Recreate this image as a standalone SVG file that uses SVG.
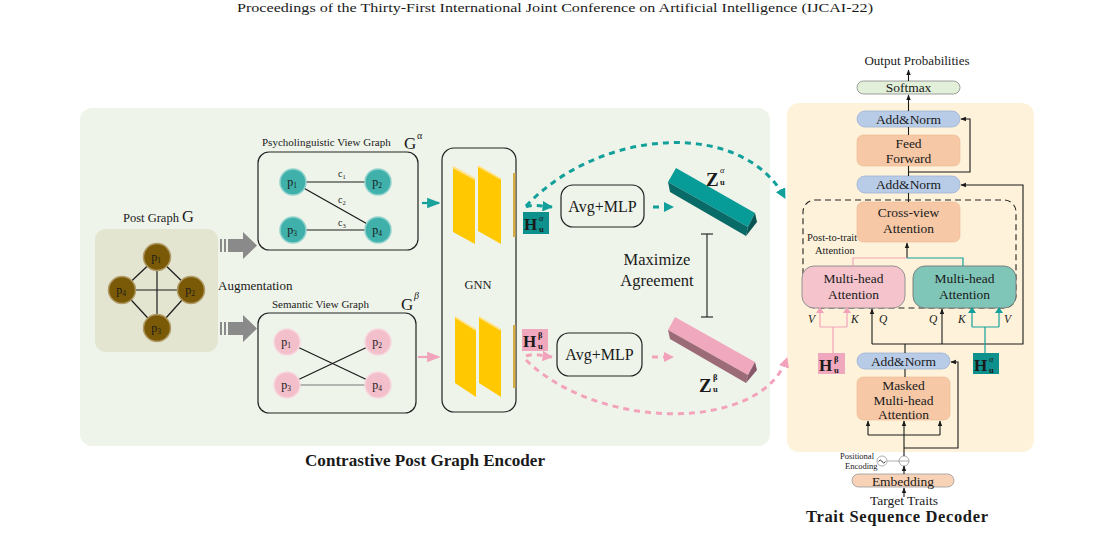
<svg xmlns="http://www.w3.org/2000/svg" width="1102" height="547" viewBox="0 0 1102 547">
<defs>
<style>
text{font-family:"Liberation Serif","DejaVu Serif",serif;fill:#1a1a1a}
.lbl{font-size:11px}
.box{fill:none;stroke:#222;stroke-width:1.2}
.edge{stroke:#1a1a1a;stroke-width:1.2;fill:none}
.ln{stroke:#1a1a1a;stroke-width:1.1;fill:none}
.blue{fill:#b8cce8;stroke:#9fb3d3;stroke-width:0.8}
.peach{fill:#f6c8a6;stroke:#eeb994;stroke-width:0.6}
.tdash{stroke:#13a09b;stroke-width:3;fill:none;stroke-dasharray:6 5}
.pdash{stroke:#f2a3bb;stroke-width:3;fill:none;stroke-dasharray:6 5}
.nodeB{fill:#7b5a07;stroke:#b09a66;stroke-width:1.5}
.nodeT{fill:#3fb0aa;stroke:#8fd2cd;stroke-width:1.5}
.nodeP{fill:#f2bfcb;stroke:#f7d8df;stroke-width:1.5}
.pt{font-size:12px;text-anchor:middle}
.dt{font-size:13.5px;text-anchor:middle}
.it{font-style:italic;font-size:11.5px}
</style>
<marker id="ah" viewBox="0 0 10 10" refX="9" refY="5" markerWidth="6" markerHeight="6" orient="auto-start-reverse"><path d="M0,1 L10,5 L0,9 z" fill="#1a1a1a"/></marker>
<marker id="aht" viewBox="0 0 10 10" refX="9" refY="5" markerWidth="3.5" markerHeight="3.5" orient="auto"><path d="M0,0 L10,5 L0,10 z" fill="#13a09b"/></marker>
<marker id="ahp" viewBox="0 0 10 10" refX="9" refY="5" markerWidth="3.5" markerHeight="3.5" orient="auto"><path d="M0,0 L10,5 L0,10 z" fill="#f2a3bb"/></marker>
<marker id="ahtp" viewBox="0 0 10 10" refX="9" refY="5" markerWidth="6" markerHeight="6" orient="auto"><path d="M0,1 L10,5 L0,9 z" fill="#1aa29c"/></marker>
<marker id="ahpp" viewBox="0 0 10 10" refX="9" refY="5" markerWidth="6" markerHeight="6" orient="auto"><path d="M0,1 L10,5 L0,9 z" fill="#f0a5bc"/></marker>
<marker id="ahs" viewBox="0 0 10 10" refX="9" refY="5" markerWidth="5" markerHeight="5" orient="auto"><path d="M0,1 L10,5 L0,9 z" fill="#1a1a1a"/></marker>
</defs>
<rect width="1102" height="547" fill="#ffffff"/>
<text x="237" y="12" font-size="13" textLength="636" lengthAdjust="spacingAndGlyphs">Proceedings of the Thirty-First International Joint Conference on Artificial Intelligence (IJCAI-22)</text>

<!-- panels -->
<rect id="encoder-panel" x="80" y="108" width="690" height="338" rx="12" fill="#eff4ea"/>
<rect id="decoder-panel" x="787" y="103" width="247" height="349" rx="12" fill="#fef3da"/>

<!-- Post graph -->
<g id="post-graph">
<text x="123" y="222" font-size="12.5">Post Graph <tspan font-size="16.5">G</tspan></text>
<rect x="95" y="229" width="123" height="123" rx="11" fill="#e3e5d1"/>
<g class="edge">
<line x1="157" y1="257" x2="191" y2="290"/><line x1="157" y1="257" x2="122" y2="290"/>
<line x1="157" y1="257" x2="157" y2="328"/><line x1="122" y1="290" x2="191" y2="290"/>
<line x1="122" y1="290" x2="157" y2="328"/><line x1="191" y1="290" x2="157" y2="328"/>
</g>
<circle class="nodeB" cx="157" cy="257" r="13.5"/><circle class="nodeB" cx="191" cy="290" r="13.5"/>
<circle class="nodeB" cx="157" cy="328" r="13.5"/><circle class="nodeB" cx="122" cy="290" r="13.5"/>
<text class="pt" x="156" y="261">p<tspan font-size="7.5" dy="2">1</tspan></text>
<text class="pt" x="190" y="294">p<tspan font-size="7.5" dy="2">2</tspan></text>
<text class="pt" x="156" y="332">p<tspan font-size="7.5" dy="2">3</tspan></text>
<text class="pt" x="121" y="294">p<tspan font-size="7.5" dy="2">4</tspan></text>
</g>

<!-- augmentation arrows -->
<g id="augment">
<g fill="#8a8a8a">
<rect x="220" y="239" width="2" height="13"/><rect x="224" y="239" width="2" height="13"/>
<path d="M228,239 H243 V232 L257,245.5 L243,259 V252 H228 z"/>
<rect x="220" y="322" width="2" height="13"/><rect x="224" y="322" width="2" height="13"/>
<path d="M228,322 H243 V315 L257,328.5 L243,342 V335 H228 z"/>
</g>
<text x="218" y="290" font-size="13">Augmentation</text>
</g>

<!-- Psycholinguistic view graph -->
<g id="psych-graph">
<text x="262" y="146" class="lbl">Psycholinguistic View Graph</text>
<text x="404" y="149" font-size="17">G</text><text x="417" y="139" font-size="10">α</text>
<rect class="box" x="258" y="152" width="160" height="98" rx="11"/>
<g class="edge">
<line x1="293" y1="182" x2="378" y2="182"/><line x1="293" y1="182" x2="378" y2="230"/><line x1="293" y1="230" x2="378" y2="230"/>
</g>
<text x="338" y="177" font-size="10">c<tspan font-size="6.5" dy="2">1</tspan></text>
<text x="338" y="203" font-size="10">c<tspan font-size="6.5" dy="2">2</tspan></text>
<text x="338" y="226" font-size="10">c<tspan font-size="6.5" dy="2">3</tspan></text>
<circle class="nodeT" cx="293" cy="182" r="13"/><circle class="nodeT" cx="378" cy="182" r="13"/>
<circle class="nodeT" cx="293" cy="230" r="13"/><circle class="nodeT" cx="378" cy="230" r="13"/>
<text class="pt" x="292" y="186">p<tspan font-size="7.5" dy="2">1</tspan></text>
<text class="pt" x="377" y="186">p<tspan font-size="7.5" dy="2">2</tspan></text>
<text class="pt" x="292" y="234">p<tspan font-size="7.5" dy="2">3</tspan></text>
<text class="pt" x="377" y="234">p<tspan font-size="7.5" dy="2">4</tspan></text>
</g>

<!-- Semantic view graph -->
<g id="semantic-graph">
<text x="272" y="308" class="lbl">Semantic View Graph</text>
<text x="401" y="310" font-size="17">G</text><text x="414" y="299" font-size="10" font-style="italic">β</text>
<rect class="box" x="258" y="313" width="158" height="100" rx="11"/>
<g class="edge">
<line x1="287" y1="342" x2="378" y2="385"/><line x1="287" y1="385" x2="378" y2="342"/>
<line x1="287" y1="385" x2="378" y2="385" stroke="#777"/>
</g>
<circle class="nodeP" cx="287" cy="342" r="13"/><circle class="nodeP" cx="378" cy="342" r="13"/>
<circle class="nodeP" cx="287" cy="385" r="13"/><circle class="nodeP" cx="378" cy="385" r="13"/>
<text class="pt" x="286" y="346">p<tspan font-size="7.5" dy="2">1</tspan></text>
<text class="pt" x="377" y="346">p<tspan font-size="7.5" dy="2">2</tspan></text>
<text class="pt" x="286" y="389">p<tspan font-size="7.5" dy="2">3</tspan></text>
<text class="pt" x="377" y="389">p<tspan font-size="7.5" dy="2">4</tspan></text>
</g>

<!-- GNN -->
<g id="gnn">
<rect class="box" x="442" y="148" width="74" height="264" rx="12"/>
<rect x="513" y="173" width="2.5" height="64" fill="#d6ae45"/>
<rect x="513" y="325" width="2.5" height="63" fill="#d6ae45"/>
<g fill="#ffc800">
<path d="M453,167 L475,179 L475,244 L453,232 z"/><path d="M478,166 L501,179 L501,244 L478,231 z"/>
<path d="M455,317 L476,330 L476,397 L455,383 z"/><path d="M479,317 L501,330 L501,397 L479,383 z"/>
</g>
<g stroke="#ffe38a" stroke-width="2">
<line x1="453" y1="167" x2="475" y2="179"/><line x1="478" y1="166" x2="501" y2="179"/>
<line x1="455" y1="317" x2="476" y2="330"/><line x1="479" y1="317" x2="501" y2="330"/>
</g>
<text x="478" y="289" font-size="12.5" text-anchor="middle">GNN</text>
</g>

<!-- H boxes (encoder) -->
<g id="h-alpha-enc">
<rect x="523" y="212" width="26" height="22" fill="#0e918c"/>
<text x="524" y="230" font-size="17" font-weight="bold">H</text>
<text x="539" y="221" font-size="8.5" font-style="italic">α</text>
<text x="539" y="232" font-size="8.5" font-weight="bold">u</text>
</g>
<g id="h-beta-enc">
<rect x="522" y="329" width="26" height="22" fill="#f0a8be"/>
<text x="523" y="347" font-size="17" font-weight="bold">H</text>
<text x="538" y="338" font-size="8.5" font-weight="bold">β</text>
<text x="538" y="349" font-size="8.5" font-weight="bold">u</text>
</g>

<!-- Avg+MLP -->
<g id="avgmlp-top">
<rect class="box" x="561" y="185" width="83" height="42" rx="12"/>
<text x="602.5" y="212" font-size="16" text-anchor="middle">Avg+MLP</text>
</g>
<g id="avgmlp-bottom">
<rect class="box" x="557" y="333" width="85" height="43" rx="12"/>
<text x="599.5" y="360" font-size="16" text-anchor="middle">Avg+MLP</text>
</g>

<!-- Z bars -->
<g id="z-alpha">
<path d="M676,168 L755,213 L748,227 L668,182 z" fill="#079c97"/>
<path d="M668,182 L748,227 L746,236 L670,192 z" fill="#086b67"/>
<path d="M748,227 L755,213 L757,222 L746,236 z" fill="#0a5552"/>
<text x="706" y="186" font-size="19" font-weight="bold">Z</text>
<text x="720" y="173" font-size="8.5" font-style="italic">α</text>
<text x="720" y="185" font-size="8.5" font-weight="bold">u</text>
</g>
<g id="z-beta">
<path d="M675,317 L755,362 L748,375 L668,330 z" fill="#f0a8be"/>
<path d="M668,330 L748,375 L746,383 L670,339 z" fill="#9c6b78"/>
<path d="M748,375 L755,362 L757,370 L746,383 z" fill="#87596a"/>
<text x="699" y="392" font-size="19" font-weight="bold">Z</text>
<text x="713" y="380" font-size="8.5" font-weight="bold">β</text>
<text x="713" y="392" font-size="8.5" font-weight="bold">u</text>
</g>

<g id="maximize">
<text x="657" y="265" font-size="16.5" text-anchor="middle">Maximize</text>
<text x="657" y="286" font-size="16.5" text-anchor="middle">Agreement</text>
<g class="ln"><line x1="707" y1="234" x2="707" y2="317"/><line x1="701" y1="234" x2="713" y2="234"/><line x1="701" y1="317" x2="713" y2="317"/></g>
</g>

<text x="305" y="466" font-size="16.5" font-weight="bold" textLength="240" lengthAdjust="spacingAndGlyphs">Contrastive Post Graph Encoder</text>

<!-- Decoder nodes -->
<g id="output-label"><text x="917" y="65" font-size="13" text-anchor="middle">Output Probabilities</text></g>
<g id="softmax"><rect x="857" y="81" width="103" height="13" rx="6.5" fill="#e2efd9" stroke="#888" stroke-width="0.8"/><text class="dt" x="908.5" y="92" font-size="12.5">Softmax</text></g>
<g id="addnorm-top"><rect class="blue" x="857" y="111" width="103" height="16" rx="8"/><text class="dt" x="908.5" y="123.5">Add&amp;Norm</text></g>
<g id="feed-forward"><rect class="peach" x="857" y="135" width="103" height="31" rx="6"/><text class="dt" x="908.5" y="148">Feed</text><text class="dt" x="908.5" y="163">Forward</text></g>
<g id="addnorm-mid"><rect class="blue" x="857" y="176" width="103" height="17" rx="8"/><text class="dt" x="908.5" y="189">Add&amp;Norm</text></g>
<g id="post-to-trait">
<rect x="803" y="200" width="213" height="108" rx="12" fill="none" stroke="#222" stroke-width="1.1" stroke-dasharray="6 4"/>
<text x="807" y="241" font-size="10.5">Post-to-trait</text>
<text x="815" y="254" font-size="10.5">Attention</text>
</g>
<g id="cross-view"><rect class="peach" x="857" y="202" width="103" height="40" rx="6"/><text class="dt" x="908.5" y="217">Cross-view</text><text class="dt" x="908.5" y="233">Attention</text></g>
<g id="mha-pink"><rect x="802" y="266" width="103" height="42" rx="12" fill="#f4c3cc" stroke="#8a8a8a" stroke-width="0.9"/><text class="dt" x="853.5" y="283" font-size="14">Multi-head</text><text class="dt" x="853.5" y="299" font-size="14">Attention</text></g>
<g id="mha-teal"><rect x="913" y="266" width="103" height="42" rx="12" fill="#7fc6b8" stroke="#777" stroke-width="0.9"/><text class="dt" x="964.5" y="283" font-size="14">Multi-head</text><text class="dt" x="964.5" y="299" font-size="14">Attention</text></g>
<g id="h-beta-dec"><rect x="818" y="353" width="27" height="21" fill="#f0a8be"/><text x="819" y="371" font-size="17" font-weight="bold">H</text><text x="834" y="362" font-size="8.5" font-weight="bold">β</text><text x="834" y="373" font-size="8.5" font-weight="bold">u</text></g>
<g id="h-alpha-dec"><rect x="973" y="353" width="26" height="21" fill="#0e918c"/><text x="974" y="371" font-size="17" font-weight="bold">H</text><text x="989" y="362" font-size="8.5" font-style="italic">α</text><text x="989" y="373" font-size="8.5" font-weight="bold">u</text></g>
<g id="addnorm-bottom"><rect class="blue" x="857" y="353" width="93" height="16" rx="8"/><text class="dt" x="903.5" y="365.5">Add&amp;Norm</text></g>
<g id="masked-mha"><rect class="peach" x="857" y="377" width="93" height="43" rx="6"/><text class="dt" x="903.5" y="389.5" font-size="14">Masked</text><text class="dt" x="903.5" y="404.5" font-size="14">Multi-head</text><text class="dt" x="903.5" y="419" font-size="14">Attention</text></g>
<g id="pos-enc">
<text x="840" y="459" font-size="8.5">Positional</text><text x="845" y="469" font-size="8.5">Encoding</text>
<circle cx="882" cy="461" r="5" fill="none" stroke="#999" stroke-width="0.8"/>
<path d="M878.5,461.5 q1.7,-3 3.5,0 t3.5,0" fill="none" stroke="#222" stroke-width="0.9"/>
<circle cx="904" cy="461" r="5" fill="none" stroke="#999" stroke-width="0.8"/>
<line x1="899" y1="461" x2="909" y2="461" stroke="#999" stroke-width="0.8"/>
<line x1="887" y1="461" x2="899" y2="461" stroke="#999" stroke-width="0.8"/>
</g>
<g id="embedding"><rect x="852" y="474" width="102" height="13" rx="6.5" fill="#f8d2b6" stroke="#999" stroke-width="0.8"/><text class="dt" x="903" y="485.5" font-size="14">Embedding</text></g>
<g id="target-traits"><text x="904" y="505" font-size="13.5" text-anchor="middle">Target Traits</text></g>
<text x="806" y="522" font-size="16.5" font-weight="bold" textLength="182" lengthAdjust="spacing">Trait Sequence Decoder</text>

<!-- connectors -->
<g id="connectors">
<line x1="422" y1="203" x2="439" y2="203" stroke="#13a09b" stroke-width="2.2" marker-end="url(#ahtp)"/>
<line x1="418" y1="357" x2="439" y2="357" stroke="#f2a3bb" stroke-width="2.2" marker-end="url(#ahpp)"/>
<path class="tdash" d="M526,207 C532,204 540,206 552,207" marker-end="url(#aht)"/>
<path class="pdash" d="M526,356 C534,353 542,356 552,357" marker-end="url(#ahp)"/>
<line class="tdash" x1="653" y1="207" x2="673" y2="207" marker-end="url(#aht)"/>
<line class="pdash" x1="652" y1="357" x2="673" y2="357" marker-end="url(#ahp)"/>
<path class="tdash" d="M526,206 C600,128 742,118 785,198" marker-end="url(#aht)"/>
<path class="pdash" d="M526,360 C600,432 762,432 787,358" marker-end="url(#ahp)"/>
<line class="ln" x1="908.5" y1="81" x2="908.5" y2="70" marker-end="url(#ahs)"/>
<line class="ln" x1="908.5" y1="111" x2="908.5" y2="95" marker-end="url(#ahs)"/>
<line class="ln" x1="908.5" y1="135" x2="908.5" y2="127"/>
<line class="ln" x1="908.5" y1="176" x2="908.5" y2="166"/>
<path class="ln" d="M908.5,172 H970 V119 H961" marker-end="url(#ahs)"/>
<line class="ln" x1="908.5" y1="202" x2="908.5" y2="193"/>
<line class="ln" x1="907" y1="258" x2="907" y2="243" marker-end="url(#ahs)"/>
<path d="M907,258 H853 V266" fill="none" stroke="#f2a3bb" stroke-width="1.2"/>
<path d="M907,258 H963 V266" fill="none" stroke="#13a09b" stroke-width="1.2"/>
<path class="ln" d="M905,353 V344 M872,344 H1023 V185 H961" marker-end="url(#ahs)"/>
<line class="ln" x1="872" y1="344" x2="872" y2="309" marker-end="url(#ahs)"/>
<line class="ln" x1="942" y1="344" x2="942" y2="309" marker-end="url(#ahs)"/>
<g stroke="#f2a3bb" stroke-width="1.2" fill="none">
<path d="M833,353 V327 M820,327 H847"/>
<line x1="820" y1="327" x2="820" y2="310"/><line x1="847" y1="327" x2="847" y2="310"/>
<path d="M816,313 L820,307 L824,313 z M843,313 L847,307 L851,313 z" fill="#f2a3bb" stroke="none"/>
</g>
<g stroke="#13a09b" stroke-width="1.2" fill="none">
<path d="M985,353 V327 M972,327 H999"/>
<line x1="972" y1="327" x2="972" y2="310"/><line x1="999" y1="327" x2="999" y2="310"/>
<path d="M968,313 L972,307 L976,313 z M995,313 L999,307 L1003,313 z" fill="#13a09b" stroke="none"/>
</g>
<text class="it" x="808" y="323">V</text><text class="it" x="851" y="323">K</text><text class="it" x="879" y="323">Q</text>
<text class="it" x="929" y="323">Q</text><text class="it" x="958" y="323">K</text><text class="it" x="1004" y="323">V</text>
<line class="ln" x1="905" y1="377" x2="905" y2="369"/>
<line class="ln" x1="904" y1="456" x2="904" y2="421" marker-end="url(#ahs)"/>
<path class="ln" d="M868,435 H940"/>
<line class="ln" x1="868" y1="435" x2="868" y2="421" marker-end="url(#ahs)"/>
<line class="ln" x1="940" y1="435" x2="940" y2="421" marker-end="url(#ahs)"/>
<path class="ln" d="M904,448 H958 V362 H951" marker-end="url(#ahs)"/>
<line class="ln" x1="904" y1="474" x2="904" y2="466" marker-end="url(#ahs)"/>
<line class="ln" x1="904" y1="497" x2="904" y2="488" marker-end="url(#ahs)"/>
</g>
</svg>
